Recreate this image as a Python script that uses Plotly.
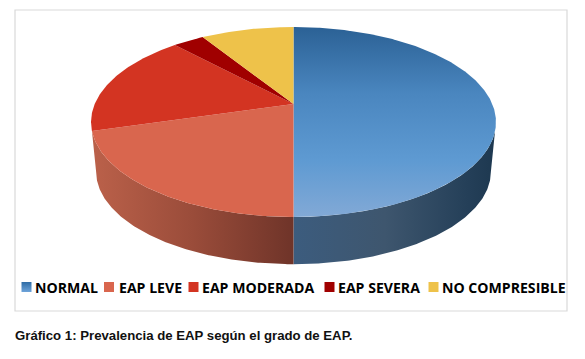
import numpy as np
import plotly.graph_objects as go

categories = ["NORMAL", "EAP LEVE", "EAP MODERADA", "EAP SEVERA", "NO COMPRESIBLE"]
values = [50.0, 20.5, 17.6, 3.0, 8.9]
top_colors = ["#4a86c0", "#d9664e", "#d33422", "#a00000", "#eec24a"]
caption = "Gráfico 1: Prevalencia de EAP según el grado de EAP."
legend_marker_x = [26.5, 109, 193.5, 329.5, 433.5]
legend_text_x = [35, 119, 202, 338, 442]

CX, CY, A, B, K = 293.5, 104.0, 198.8, 91.6, 0.1895
BASE_DY, BASE_SCALE = 50.0, 0.975
RIGHT_EXTREME, LEFT_EXTREME = 100.9, 259.1


def rim(deg, dy=0.0, scale=1.0):
    t = np.radians(deg)
    u, v = np.sin(t), np.cos(t)
    d = 1 + K * v
    return CX + scale * A * u / d, CY + dy - scale * B * v / d


def arc(a, b, n=None, **kw):
    n = n or max(int(abs(b - a)) * 2, 3)
    return rim(np.linspace(a, b, n), **kw)


edges = np.concatenate([[0], np.cumsum(values)]) / sum(values) * 360
fig = go.Figure()


def wall(a, b, stops, base_end=None):
    x1, y1 = arc(a, b)
    x2, y2 = arc(base_end if base_end else b, a, dy=BASE_DY, scale=BASE_SCALE)
    fig.add_trace(go.Scatter(
        x=np.r_[x1, x2], y=np.r_[y1, y2], mode="lines", line=dict(width=0),
        fill="toself", hoverinfo="skip",
        fillgradient=dict(type="horizontal", colorscale=stops),
    ))


# side walls (only those facing the viewer)
wall(RIGHT_EXTREME, edges[1], [[0, "#3c5c7e"], [0.45, "#3e566e"], [0.85, "#254059"], [1, "#1d3850"]])
wall(edges[1], edges[2], [[0, "#bb614a"], [0.5, "#9a4c3a"], [1, "#6f3429"]], base_end=LEFT_EXTREME)

# top faces
for i, name in enumerate(categories):
    x, y = arc(edges[i], edges[i + 1])
    xs, ys = np.r_[CX, x, CX], np.r_[CY, y, CY]
    kw = dict(fillcolor=top_colors[i])
    if i == 0:
        kw = dict(fillgradient=dict(type="vertical", colorscale=[
            [0, "#82a9d6"], [0.3, "#5e9ad2"], [0.65, "#4a86bf"], [1, "#2b6195"]]))
    fig.add_trace(go.Scatter(x=xs, y=ys, mode="lines", line=dict(width=0),
                             fill="toself", name=name, **kw))

# legend keys and labels
for i, name in enumerate(categories):
    marker = dict(symbol="square", size=10, color=top_colors[i], line=dict(width=0))
    if i == 0:
        marker = dict(symbol="square", size=10, color="#2f6ca5", line=dict(width=0),
                      gradient=dict(type="vertical", color="#6ea4da"))
    fig.add_trace(go.Scatter(x=[legend_marker_x[i]], y=[287], mode="markers",
                             marker=marker, hoverinfo="skip"))
    fig.add_annotation(x=legend_text_x[i], y=287, text=f"<b>{name}</b>", showarrow=False,
                       xanchor="left", yanchor="middle", xshift=-2,
                       font=dict(family="Open Sans", size=14.1, color="#000000"))

fig.add_annotation(x=15, y=335, text=f"<b>{caption}</b>", showarrow=False, xanchor="left",
                   yanchor="middle", xshift=-2,
                   font=dict(family="Liberation Sans", size=13.2, color="#111111"))
fig.add_shape(type="rect", x0=15, x1=567, y0=10, y1=311, line=dict(color="#d9d9d9", width=1.2),
              layer="below")

fig.update_layout(
    width=585, height=359, margin=dict(l=0, r=0, t=0, b=0), showlegend=False,
    paper_bgcolor="white", plot_bgcolor="white",
    xaxis=dict(range=[0, 585], visible=False, fixedrange=True),
    yaxis=dict(range=[359, 0], visible=False, fixedrange=True),
)
fig.write_html("out.html", config=dict(displayModeBar=False),
               post_script="document.body.style.margin='0';")
